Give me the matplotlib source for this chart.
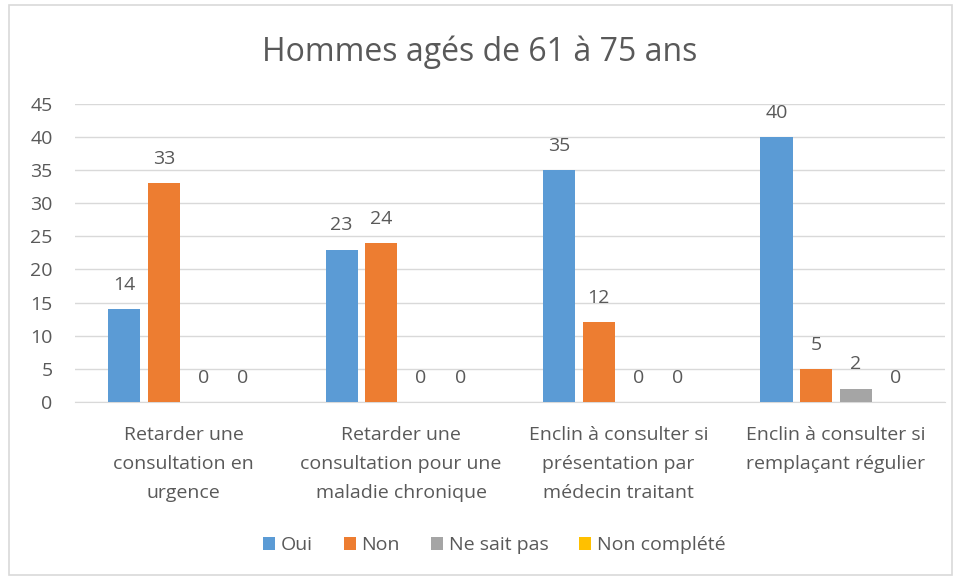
import numpy as np
import matplotlib
matplotlib.use("Agg")
import matplotlib.pyplot as plt
from matplotlib.patches import Rectangle

categories = [
    "Retarder une\nconsultation en\nurgence",
    "Retarder une\nconsultation pour une\nmaladie chronique",
    "Enclin à consulter si\nprésentation par\nmédecin traitant",
    "Enclin à consulter si\nremplaçant régulier",
]
oui = [14, 23, 35, 40]
non = [33, 24, 12, 5]
ne_sait_pas = [0, 0, 0, 2]
non_complete = [0, 0, 0, 0]

series = [
    ("Oui", oui, "#5B9BD5"),
    ("Non", non, "#ED7D31"),
    ("Ne sait pas", ne_sait_pas, "#A5A5A5"),
    ("Non complété", non_complete, "#FFC000"),
]

TEXT = "#595959"
plt.rcParams["font.family"] = ["Open Sans", "DejaVu Sans"]

fig = plt.figure(figsize=(9.6, 5.8), dpi=100)
fig.patches.append(Rectangle((0.009, 0.008), 0.983, 0.984, transform=fig.transFigure,
                             fill=False, edgecolor="#D9D9D9", linewidth=1.2))
ax = fig.add_axes([0.078, 0.307, 0.906, 0.514])

x = np.arange(len(categories))
step = 0.182
width = 0.148
for i, (name, vals, color) in enumerate(series):
    pos = x + (i - 1.5) * step
    ax.bar(pos, vals, width=width, color=color, label=name, zorder=3)
    for xp, v in zip(pos, vals):
        ax.text(xp, v + 2.3, f"{v}", ha="center", va="bottom",
                fontsize=14, color=TEXT)

ax.set_xlim(-0.5, len(categories) - 0.5)
ax.set_ylim(0, 45)
ax.set_yticks(range(0, 50, 5))
ax.yaxis.grid(True, color="#D9D9D9", linewidth=1, zorder=0)
ax.tick_params(axis="y", length=0, labelsize=14, labelcolor=TEXT, pad=16)
ax.tick_params(axis="x", length=0, labelsize=14, labelcolor=TEXT, pad=17)
ax.set_xticks(x)
ax.set_xticklabels(categories, linespacing=1.8)
for side in ["top", "right", "left"]:
    ax.spines[side].set_visible(False)
ax.spines["bottom"].set_color("#D9D9D9")

fig.text(0.5, 0.91, "Hommes agés de 61 à 75 ans", ha="center", va="center",
         fontsize=23, color=TEXT)

fig.legend(loc="center", bbox_to_anchor=(0.515, 0.06), ncol=4, frameon=False,
           fontsize=14, labelcolor=TEXT, handlelength=0.6, handleheight=0.6,
           handletextpad=0.3, columnspacing=1.6)

fig.savefig("out.png", dpi=100)
